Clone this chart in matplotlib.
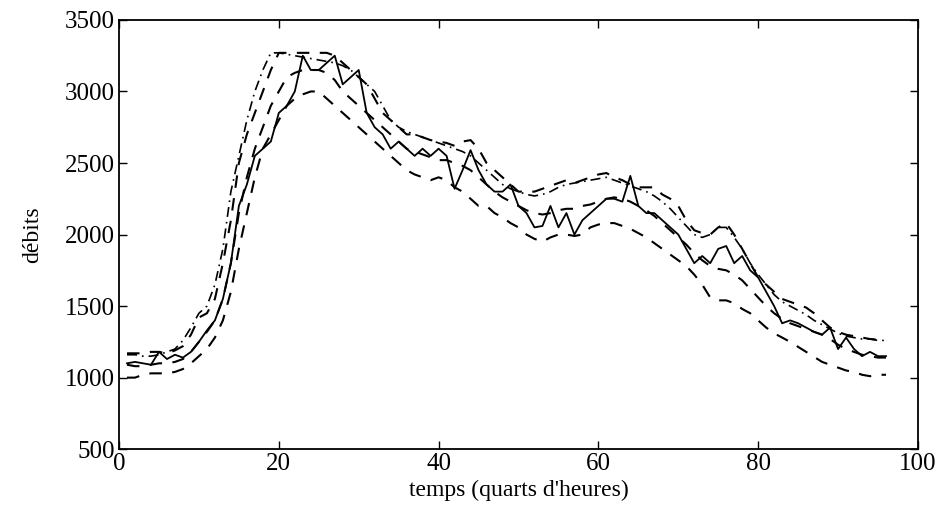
import numpy as np
import matplotlib
matplotlib.use("Agg")
import matplotlib.pyplot as plt

plt.rcParams['font.family'] = ['Liberation Serif', 'DejaVu Serif']

# time steps (quarter hours)
t = list(range(1, 97))

# measured flow (solid)
actual = [1100, 1110, 1100, 1090, 1180, 1130, 1160, 1140, 1180, 1250,
          1330, 1400, 1550, 1800, 2200, 2350, 2550, 2600, 2650, 2850,
          2900, 3000, 3250, 3150, 3150, 3200, 3250, 3050, 3100, 3150,
          2850, 2750, 2700, 2600, 2650, 2600, 2550, 2600, 2550, 2600,
          2550, 2320, 2450, 2590, 2450, 2350, 2300, 2300, 2350, 2200,
          2150, 2050, 2060, 2200, 2050, 2150, 2000, 2100, 2150, 2200,
          2250, 2250, 2230, 2410, 2200, 2150, 2150, 2100, 2050, 2000,
          1900, 1800, 1850, 1800, 1900, 1920, 1800, 1850, 1750, 1700,
          1600, 1500, 1380, 1400, 1380, 1350, 1320, 1300, 1350, 1200,
          1280, 1200, 1150, 1180, 1150, 1150]

# forecast (middle dashed)
forecast = [1090, 1080, 1080, 1090, 1100, 1100, 1110, 1130, 1180, 1250,
            1320, 1400, 1550, 1800, 2150, 2400, 2600, 2750, 2900, 3000,
            3100, 3130, 3150, 3150, 3150, 3130, 3080, 3000, 2950, 2900,
            2850, 2800, 2750, 2700, 2650, 2600, 2580, 2560, 2540, 2520,
            2520, 2500, 2480, 2450, 2400, 2350, 2300, 2260, 2230, 2200,
            2170, 2150, 2140, 2150, 2170, 2180, 2180, 2200, 2210, 2230,
            2250, 2260, 2250, 2230, 2200, 2170, 2130, 2080, 2030, 1980,
            1930, 1870, 1820, 1780, 1760, 1750, 1720, 1680, 1620, 1560,
            1500, 1450, 1410, 1380, 1360, 1340, 1320, 1300, 1270, 1230,
            1200, 1180, 1160, 1150, 1140, 1140]

# upper bound (dashed)
upper = [1170, 1170, 1170, 1180, 1180, 1170, 1190, 1220, 1300, 1420,
         1450, 1550, 1800, 2100, 2500, 2700, 2850, 3000, 3150, 3270,
         3270, 3270, 3270, 3270, 3270, 3270, 3250, 3200, 3150, 3100,
         3050, 2950, 2850, 2800, 2750, 2700, 2700, 2680, 2660, 2650,
         2640, 2620, 2650, 2660, 2600, 2500, 2450, 2400, 2350, 2300,
         2300, 2300, 2320, 2340, 2360, 2380, 2360, 2380, 2400, 2420,
         2430, 2400, 2380, 2350, 2330, 2330, 2330, 2280, 2250, 2200,
         2100, 2030, 2010, 2000, 2050, 2080, 2000, 1900, 1800, 1700,
         1650, 1600, 1550, 1530, 1510, 1490, 1450, 1400, 1350, 1320,
         1300, 1290, 1280, 1270, 1265, 1260]

# lower bound (dashed)
lower = [1000, 1000, 1020, 1030, 1030, 1030, 1040, 1060, 1100, 1150,
         1200, 1280, 1400, 1600, 1900, 2150, 2400, 2600, 2700, 2800,
         2900, 2950, 2980, 3000, 3000, 2950, 2900, 2850, 2800, 2750,
         2700, 2650, 2600, 2550, 2500, 2450, 2420, 2400, 2380, 2400,
         2380, 2330, 2300, 2250, 2200, 2200, 2150, 2120, 2080, 2050,
         2000, 1970, 1950, 1980, 2000, 2000, 1990, 2000, 2050, 2070,
         2080, 2080, 2060, 2040, 2010, 1980, 1940, 1900, 1860, 1820,
         1780, 1720, 1650, 1560, 1540, 1540, 1520, 1480, 1450, 1400,
         1350, 1310, 1280, 1250, 1215, 1180, 1145, 1110, 1090, 1070,
         1050, 1040, 1020, 1010, 1020, 1020]

# second upper curve (dash-dot)
upper2 = [1160, 1160, 1150, 1150, 1160, 1180, 1200, 1260, 1350, 1450,
          1500, 1650, 1900, 2300, 2550, 2800, 3000, 3150, 3270, 3270,
          3260, 3250, 3240, 3230, 3220, 3210, 3200, 3180, 3150, 3100,
          3050, 3000, 2900, 2800, 2750, 2720, 2700, 2680, 2660, 2640,
          2620, 2600, 2580, 2550, 2500, 2450, 2400, 2350, 2320, 2300,
          2280, 2270, 2280, 2300, 2330, 2350, 2360, 2370, 2380, 2390,
          2400, 2380, 2360, 2340, 2320, 2300, 2270, 2230, 2180, 2120,
          2060, 2000, 1980, 2000, 2050, 2050, 1980, 1900, 1800, 1720,
          1650, 1580, 1530, 1500, 1470, 1440, 1400, 1370, 1340, 1310,
          1290, 1280, 1270, 1270, 1260, 1260]

fig = plt.figure(figsize=(9.41, 5.11), dpi=100)
ax = fig.add_axes([0.1265, 0.121, 0.849, 0.84])

ax.plot(t, upper2, color='black', lw=1.2, linestyle=(0, (6, 3, 1, 3)))
ax.plot(t, upper, color='black', lw=1.5, linestyle=(0, (6, 5)))
ax.plot(t, forecast, color='black', lw=1.5, linestyle=(0, (6, 5)))
ax.plot(t, lower, color='black', lw=1.5, linestyle=(0, (6, 5)))
ax.plot(t, actual, color='black', lw=1.3)

ax.set_xlim(0, 100)
ax.set_ylim(500, 3500)
ax.set_xticks([0, 20, 40, 60, 80, 100])
ax.set_yticks([500, 1000, 1500, 2000, 2500, 3000, 3500])
ax.tick_params(direction='in', top=True, right=True, length=6, width=1,
               labelsize=18, pad=3)
for s in ax.spines.values():
    s.set_linewidth(1.3)

ax.set_xlabel("temps (quarts d'heures)", fontsize=17, labelpad=3)
ax.set_ylabel("débits", fontsize=17, labelpad=16)

fig.savefig("out.png", dpi=100)
